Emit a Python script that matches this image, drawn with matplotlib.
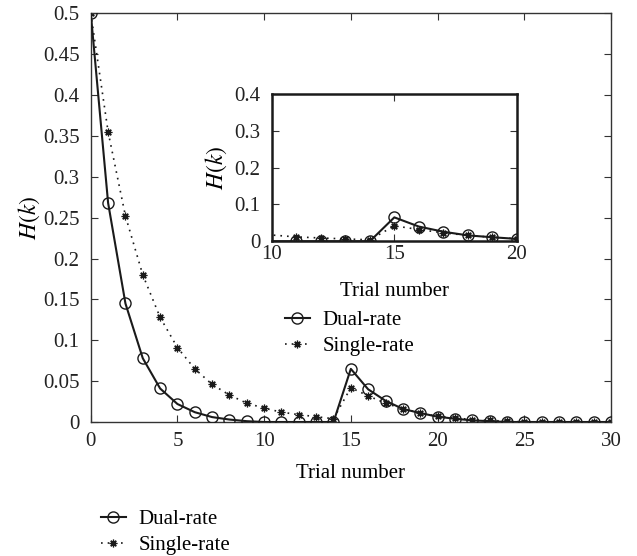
import numpy as np
import matplotlib as mpl
import matplotlib.pyplot as plt
from matplotlib.lines import Line2D

mpl.rcParams['font.family'] = 'Liberation Serif'
mpl.rcParams['mathtext.fontset'] = 'stix'
mpl.rcParams['font.size'] = 15
mpl.rcParams['xtick.direction'] = 'in'
mpl.rcParams['ytick.direction'] = 'in'
mpl.rcParams['xtick.top'] = True
mpl.rcParams['ytick.right'] = True
mpl.rcParams['xtick.major.pad'] = 7.5
mpl.rcParams['ytick.major.pad'] = 8

trial = np.arange(0, 31)

dual_rate = [0.5, 0.268, 0.145, 0.078, 0.041, 0.022, 0.012, 0.006, 0.003,
             0.001, 0.0, 0.0, 0.0, 0.0, 0.0, 0.065, 0.040, 0.026, 0.016,
             0.011, 0.0065, 0.004, 0.002, 0.001, 0.0, 0.0, 0.0, 0.0, 0.0,
             0.0, 0.0]
single_rate = [0.5, 0.355, 0.252, 0.180, 0.128, 0.091, 0.065, 0.046, 0.033,
               0.023, 0.017, 0.012, 0.009, 0.0065, 0.004, 0.042, 0.032,
               0.023, 0.016, 0.011, 0.007, 0.005, 0.003, 0.002, 0.001,
               0.0, 0.0, 0.0, 0.0, 0.0, 0.0]

main_yticks = [0, 0.05, 0.1, 0.15, 0.2, 0.25, 0.3, 0.35, 0.4, 0.45, 0.5]
main_ytick_labels = ['0', '0.05', '0.1', '0.15', '0.2', '0.25', '0.3',
                     '0.35', '0.4', '0.45', '0.5']
inset_yticks = [0, 0.1, 0.2, 0.3, 0.4]
inset_ytick_labels = ['0', '0.1', '0.2', '0.3', '0.4']

line_color = '#1a1a1a'
asterisk = (8, 2, 0)

dual_style = dict(color=line_color, lw=1.5, marker='o', markersize=8,
                  markerfacecolor='none', markeredgewidth=1.0)
single_style = dict(color=line_color, lw=1.2, ls=(0, (1, 3)),
                    marker=asterisk, markersize=5.5, markeredgewidth=0.9)

fig = plt.figure()
fig.set_size_inches(6.37, 5.56)
fig.dpi = 100

axes = fig.add_axes([0.1425, 0.241, 0.8165, 0.735])
axes.plot(trial, dual_rate, label='Dual-rate', zorder=3, **dual_style)
axes.plot(trial, single_rate, label='Single-rate', zorder=2, **single_style)
axes.set_xlim(0, 30)
axes.set_ylim(0, 0.5)
axes.set_xticks([0, 5, 10, 15, 20, 25, 30])
axes.set_yticks(main_yticks)
axes.set_yticklabels(main_ytick_labels)
axes.set_xlabel('Trial number', labelpad=9)
axes.set_ylabel('$H(k)$', labelpad=1, fontsize=17)
axes.tick_params(length=5, width=0.8, colors='#333333', labelcolor='#222222')
for spine in axes.spines.values():
    spine.set_linewidth(1.0)
    spine.set_color('#333333')

# zoomed view of trials 10-20
inset = fig.add_axes([0.4265, 0.566, 0.3851, 0.265])
sel = slice(9, 21)
inset.plot(trial[sel], dual_rate[sel], markevery=slice(2, None), zorder=3,
           **dual_style)
inset.plot(trial[sel], single_rate[sel], markevery=slice(2, None), zorder=2,
           **single_style)
inset.set_xlim(10, 20)
inset.set_ylim(0, 0.4)
inset.set_xticks([10, 15, 20])
inset.set_yticks(inset_yticks)
inset.set_yticklabels(inset_ytick_labels)
inset.set_xlabel('Trial number', labelpad=13)
inset.set_ylabel('$H(k)$', labelpad=4, fontsize=17)
inset.tick_params(length=5, width=0.8, colors='#333333', labelcolor='#222222')
inset.tick_params(axis='x', pad=2.5)
for spine in inset.spines.values():
    spine.set_linewidth(1.8)
    spine.set_color('#1a1a1a')

handles = [Line2D([], [], **dual_style), Line2D([], [], **single_style)]
labels = ['Dual-rate', 'Single-rate']

axes.legend(handles, labels, loc='upper left',
            bbox_to_anchor=(0.447, 0.441), bbox_transform=fig.transFigure,
            frameon=False, handlelength=1.2, handletextpad=0.63,
            labelspacing=0.3, borderpad=0, borderaxespad=0)
fig.legend(handles, labels, loc='upper left',
           bbox_to_anchor=(0.158, 0.083), frameon=False, handlelength=1.2,
           handletextpad=0.63, labelspacing=0.3, borderpad=0,
           borderaxespad=0)

plt.savefig('out.png', dpi=100)
plt.close(fig)
